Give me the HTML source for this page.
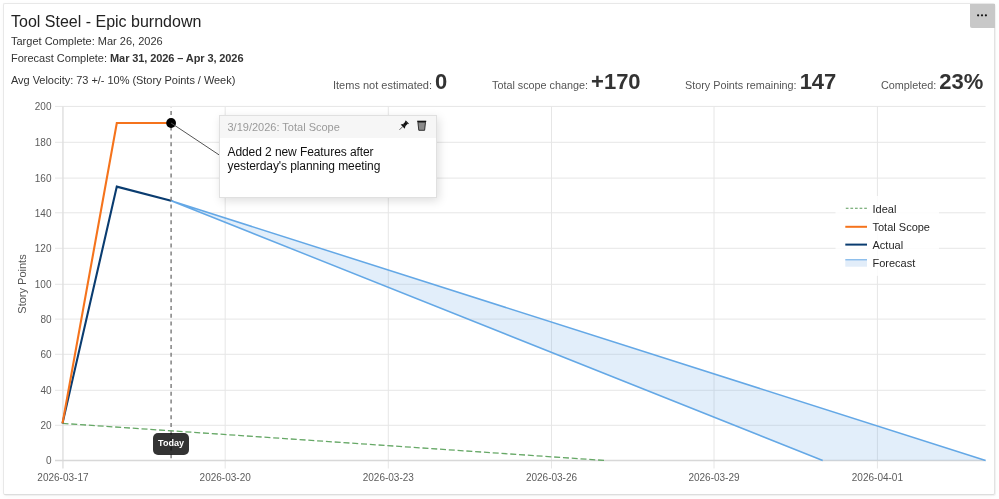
<!DOCTYPE html>
<html><head><meta charset="utf-8">
<style>
html,body{margin:0;padding:0;background:#fff;width:999px;height:499px;overflow:hidden;font-family:"Liberation Sans",sans-serif;-webkit-font-smoothing:antialiased;}
.root{position:absolute;left:0;top:0;width:999px;height:499px;will-change:transform;}
.card{position:absolute;left:3px;top:3px;width:990px;height:490px;border:1px solid #e8e8e8;border-bottom-color:#dddddd;border-right-color:#e2e2e2;border-radius:2px;box-shadow:1px 1px 0 rgba(0,0,0,0.045),0 1px 4px rgba(0,0,0,0.03);background:#fff;}
.t{position:absolute;white-space:pre;line-height:1;}
.menu{position:absolute;left:970px;top:4px;width:25px;height:24.4px;background:#c8c8c8;border-bottom-left-radius:2px;}

.stat{position:absolute;top:70.5px;white-space:pre;line-height:1;color:#555;font-size:10.8px;}
.stat b{font-size:22px;color:#333;font-weight:700;}
.tip{position:absolute;left:219px;top:115px;width:216px;height:81px;border:1px solid #e0e0e0;background:#fff;box-shadow:2px 3px 9px rgba(0,0,0,0.13);}
.tiph{position:absolute;left:0;top:0;width:216px;height:22px;background:#f6f6f6;}
.today{position:absolute;left:152.8px;top:432.6px;width:36.4px;height:22px;background:rgba(0,0,0,0.8);border-radius:5px;color:#fff;font-weight:700;font-size:9px;line-height:20.6px;text-align:center;}
.leg{position:absolute;left:872.5px;color:#262626;font-size:11px;line-height:1;white-space:pre;}
</style></head><body><div class="root">
<div class="card"></div>
<div class="menu"><svg width="25" height="25" style="position:absolute;left:0;top:0"><circle cx="8.1" cy="11.3" r="1.1" fill="#111"/><circle cx="12" cy="11.3" r="1.1" fill="#111"/><circle cx="15.9" cy="11.3" r="1.1" fill="#111"/></svg></div>

<div class="t" style="left:11px;top:14px;font-size:16px;color:#222;">Tool Steel - Epic burndown</div>
<div class="t" style="left:11px;top:36px;font-size:11px;color:#333;">Target Complete: Mar 26, 2026</div>
<div class="t" style="left:11px;top:53px;font-size:11px;color:#333;">Forecast Complete: <b style="letter-spacing:-0.1px">Mar 31, 2026 – Apr 3, 2026</b></div>
<div class="t" style="left:11px;top:75px;font-size:11px;color:#333;letter-spacing:-0.04px">Avg Velocity: 73 +/- 10% (Story Points / Week)</div>

<div class="stat" style="left:333px;font-size:11px;">Items not estimated: <b style="letter-spacing:0.6px">0</b></div>
<div class="stat" style="left:492px;">Total scope change: <b>+170</b></div>
<div class="stat" style="left:685px;">Story Points remaining: <b>147</b></div>
<div class="stat" style="left:881px;">Completed: <b>23%</b></div>

<svg width="999" height="499" style="position:absolute;left:0;top:0;">
<g stroke="#e6e6e6" stroke-width="1" fill="none"><path d="M55 425.3H985.6M55 390.3H985.6M55 354.3H985.6M55 319.1H985.6M55 284.3H985.6M55 248.3H985.6M55 212.8H985.6M55 178.1H985.6M55 142.3H985.6M55 106.4H985.6"/><path d="M225.2 106.4V468.5M388.3 106.4V468.5M551.5 106.4V468.5M714 106.4V468.5M877.4 106.4V468.5"/></g>
<path d="M62.94 106.4V468.5" stroke="#dedede" stroke-width="1.4"/>
<g font-size="10" fill="#5c5c5c" text-anchor="end" font-family="Liberation Sans"><text x="51.5" y="464.4">0</text><text x="51.5" y="429.2">20</text><text x="51.5" y="394.2">40</text><text x="51.5" y="358.2">60</text><text x="51.5" y="323">80</text><text x="51.5" y="288.2">100</text><text x="51.5" y="252.2">120</text><text x="51.5" y="216.7">140</text><text x="51.5" y="182">160</text><text x="51.5" y="146.2">180</text><text x="51.5" y="110.3">200</text></g>
<g font-size="10" fill="#5c5c5c" text-anchor="middle" font-family="Liberation Sans"><text x="62.94" y="481.2">2026-03-17</text><text x="225.2" y="481.2">2026-03-20</text><text x="388.3" y="481.2">2026-03-23</text><text x="551.5" y="481.2">2026-03-26</text><text x="714" y="481.2">2026-03-29</text><text x="877.4" y="481.2">2026-04-01</text></g>
<text x="26" y="284" font-size="11" fill="#555" text-anchor="middle" font-family="Liberation Sans" transform="rotate(-90 26 284)">Story Points</text>
<path d="M55 460.5H985.6" stroke="#d8d8d8" stroke-width="1.5"/>
<polygon points="171.1 200.75 985.6 460.5 822.7 460.5" fill="rgb(112,168,230)" fill-opacity="0.2"/>
<path d="M171.1 200.75L985.6 460.5M171.1 200.75L822.7 460.5" stroke="#64a8e6" stroke-width="1.5" fill="none"/>
<path d="M62.5 423.39L605.5 460.5" stroke="#66a866" stroke-width="1.3" stroke-dasharray="6 2.8" fill="none"/>
<path d="M62.5 423.39L116.8 186.62L171.1 200.75" stroke="#0a3c70" stroke-width="2.1" fill="none"/>
<path d="M62.5 423.39L116.8 123L171.1 123" stroke="#f5731c" stroke-width="2.1" fill="none"/>
<path d="M171.1 107V460.5" stroke="#828282" stroke-width="1.5" stroke-dasharray="4 3.8" stroke-dashoffset="3.8"/>
<circle cx="171.1" cy="123" r="4.9" fill="#000"/>
<path d="M171.1 123L220 155.5" stroke="#555" stroke-width="1"/>
<rect x="835.5" y="196" width="103.5" height="79.8" fill="#fff" fill-opacity="0.85"/>
<path d="M845.8 208.3H867" stroke="#5a9a5a" stroke-width="1.1" stroke-dasharray="2.7 1.9"/>
<path d="M845.3 226.8H867" stroke="#f5731c" stroke-width="2"/>
<path d="M845.3 244.6H867" stroke="#0a3c70" stroke-width="2"/>
<rect x="845.3" y="259.5" width="21.7" height="7.2" fill="#e2edf9"/>
<path d="M845.3 259.8H867" stroke="#64a8e6" stroke-width="1"/>
</svg>

<div class="leg" style="top:203.5px;">Ideal</div>
<div class="leg" style="top:221.5px;">Total Scope</div>
<div class="leg" style="top:239.5px;">Actual</div>
<div class="leg" style="top:257.5px;">Forecast</div>

<div class="tip"><div class="tiph"></div>
<div class="t" style="left:7.5px;top:5.5px;font-size:11px;color:#9a9a9a;">3/19/2026: Total Scope</div>
<div class="t" style="left:7.5px;top:29px;font-size:12px;color:#111;line-height:14px;letter-spacing:-0.08px;">Added 2 new Features after
yesterday's planning meeting</div>
<svg width="216" height="22" style="position:absolute;left:0;top:0">
<g transform="translate(183.4 9.9) rotate(45) scale(0.84)">
<rect x="-2.6" y="-6.6" width="5.2" height="1.4" fill="#111"/>
<rect x="-1.8" y="-5.4" width="3.6" height="4" fill="#111"/>
<path d="M-1.8 -1.6L-3.4 1.2H3.4L1.8 -1.6Z" fill="#111"/>
<path d="M0 1L0 6.6" stroke="#333" stroke-width="0.9"/>
</g>
<path d="M197.2 5.4H206.2" stroke="#111" stroke-width="1.4"/>
<path d="M197.9 6.2L198.8 14.3H204.6L205.5 6.2Z" fill="#8a8a8a" stroke="#222" stroke-width="0.9"/>
</svg>
</div>

<div class="today">Today</div>
</div></body></html>
